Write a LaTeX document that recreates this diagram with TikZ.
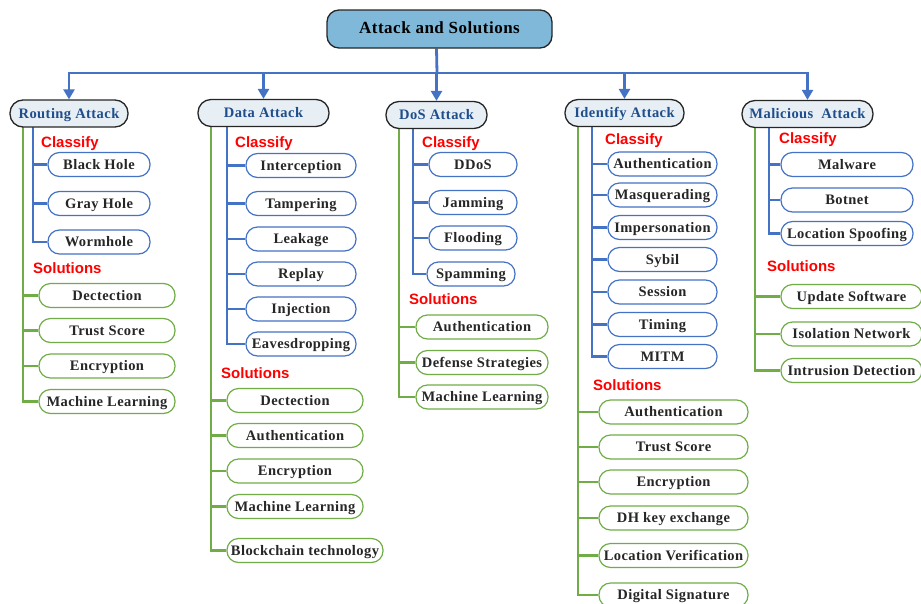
\documentclass[tikz,border=0pt]{standalone}
\usepackage{fontspec}
\setmainfont{Liberation Serif}
\newfontfamily\labfont{Liberation Sans}
\newfontfamily\boxfont{Liberation Serif}[LetterSpace=3]
\usetikzlibrary{arrows.meta,backgrounds}
\definecolor{blueC}{HTML}{4472C4}
\definecolor{greenC}{HTML}{70AD47}
\definecolor{titleC}{HTML}{7FB8D9}
\definecolor{catC}{HTML}{E8EFF4}
\definecolor{catT}{HTML}{1F4E8C}
\definecolor{redC}{HTML}{FF0000}
\begin{document}
\begin{tikzpicture}[x=1pt,y=-1pt,
  box/.style={draw, fill=white, rounded corners=11.5pt, minimum height=24pt, inner sep=0pt, line width=1.2pt, text height=12.4pt, text depth=3pt, font=\boxfont\fontsize{14.5}{16}\selectfont\bfseries, text=black!85},
  cbox/.style={box, draw=blueC},
  sbox/.style={box, draw=greenC},
  cat/.style={draw=black!85, fill=catC, rounded corners=13pt, minimum height=27pt, inner sep=0pt, line width=1.3pt, text height=12.4pt, text depth=3pt, font=\boxfont\fontsize{14.5}{16}\selectfont\bfseries, text=catT},
  lab/.style={anchor=west, inner sep=0pt, text=redC, text height=11pt, text depth=3pt, font=\labfont\fontsize{15}{17}\selectfont\bfseries},
  bl/.style={draw=blueC, line width=2.8pt},
  gl/.style={draw=greenC, line width=2.8pt},
  arr/.style={bl, -{Triangle[length=10pt,width=11pt]}}
]
\useasboundingbox (0,0) rectangle (921,603);

% title
\node[draw=black!85, fill=titleC, rounded corners=12pt, minimum width=225pt, minimum height=38pt, inner sep=0pt, line width=1.3pt, text height=13pt, text depth=3.5pt, font=\boxfont\fontsize{17}{20}\selectfont\bfseries] (title) at (439.5,29) {Attack and Solutions};

% categories
\node[cat, minimum width=118pt] (ra) at (69,113.5) {Routing Attack};
\node[cat, minimum width=131pt] (da) at (263.5,113) {Data Attack};
\node[cat, minimum width=101pt] (dos) at (436.5,115) {DoS Attack};
\node[cat, minimum width=119pt] (ia) at (624.5,113) {Identify Attack};
\node[cat, minimum width=131pt] (ma) at (807.5,114) {Malicious\ \ Attack};

% ---------- Routing ----------
\node[lab] (rcl) at (41,143) {Classify};
\node[cbox, minimum width=102pt] (rc1) at (99,164.5) {Black Hole};
\node[cbox, minimum width=102pt] (rc2) at (99,203.5) {Gray Hole};
\node[cbox, minimum width=102pt] (rc3) at (99,242) {Wormhole};
\node[lab] (rsl) at (33,269) {Solutions};
\node[sbox, minimum width=136pt] (rs1) at (107,295.5) {Dectection};
\node[sbox, minimum width=136pt] (rs2) at (107,330.5) {Trust Score};
\node[sbox, minimum width=136pt] (rs3) at (107,366) {Encryption};
\node[sbox, minimum width=136pt] (rs4) at (107,401.5) {Machine Learning};

% ---------- Data ----------
\node[lab] (dcl) at (235,143) {Classify};
\node[cbox, minimum width=110pt] (dc1) at (301,165.5) {Interception};
\node[cbox, minimum width=110pt] (dc2) at (301,203.5) {Tampering};
\node[cbox, minimum width=110pt] (dc3) at (301,239) {Leakage};
\node[cbox, minimum width=110pt] (dc4) at (301,274) {Replay};
\node[cbox, minimum width=110pt] (dc5) at (301,309) {Injection};
\node[cbox, minimum width=110pt] (dc6) at (301,344) {Eavesdropping};
\node[lab] (dsl) at (221,374) {Solutions};
\node[sbox, minimum width=136pt] (ds1) at (295,400.5) {Dectection};
\node[sbox, minimum width=136pt] (ds2) at (295,435.5) {Authentication};
\node[sbox, minimum width=136pt] (ds3) at (295,471) {Encryption};
\node[sbox, minimum width=136pt] (ds4) at (295,506.5) {Machine Learning};
\node[sbox, minimum width=156pt] (ds5) at (305,550.5) {Blockchain technology};

% ---------- DoS ----------
\node[lab] (ocl) at (422,143) {Classify};
\node[cbox, minimum width=88pt] (oc1) at (473,164.5) {DDoS};
\node[cbox, minimum width=88pt] (oc2) at (473,202.5) {Jamming};
\node[cbox, minimum width=88pt] (oc3) at (473,238) {Flooding};
\node[cbox, minimum width=88pt] (oc4) at (471,274) {Spamming};
\node[lab] (osl) at (409,300) {Solutions};
\node[sbox, minimum width=132pt] (os1) at (482,327) {Authentication};
\node[sbox, minimum width=132pt] (os2) at (482,362.5) {Defense Strategies};
\node[sbox, minimum width=132pt] (os3) at (482,397) {Machine Learning};

% ---------- Identify ----------
\node[lab] (icl) at (605,140) {Classify};
\node[cbox, minimum width=109pt] (ic1) at (662.5,164) {Authentication};
\node[cbox, minimum width=109pt] (ic2) at (662.5,195) {Masquerading};
\node[cbox, minimum width=109pt] (ic3) at (662.5,227.5) {Impersonation};
\node[cbox, minimum width=109pt] (ic4) at (662.5,259.5) {Sybil};
\node[cbox, minimum width=109pt] (ic5) at (662.5,292) {Session};
\node[cbox, minimum width=109pt] (ic6) at (662.5,324.5) {Timing};
\node[cbox, minimum width=109pt] (ic7) at (662.5,356.5) {MITM};
\node[lab] (isl) at (593,386) {Solutions};
\node[sbox, minimum width=149pt] (is1) at (673.5,412) {Authentication};
\node[sbox, minimum width=149pt] (is2) at (673.5,447) {Trust Score};
\node[sbox, minimum width=149pt] (is3) at (673.5,482) {Encryption};
\node[sbox, minimum width=149pt] (is4) at (673.5,518) {DH key exchange};
\node[sbox, minimum width=149pt] (is5) at (673.5,555.5) {Location Verification};
\node[sbox, minimum width=149pt] (is6) at (673.5,595) {Digital Signature};

% ---------- Malicious ----------
\node[lab] (mcl) at (779,139) {Classify};
\node[cbox, minimum width=132pt] (mc1) at (847,164.5) {Malware};
\node[cbox, minimum width=132pt] (mc2) at (847,200) {Botnet};
\node[cbox, minimum width=132pt] (mc3) at (847,233.5) {Location Spoofing};
\node[lab] (msl) at (767,267) {Solutions};
\node[sbox, minimum width=141pt] (ms1) at (851.5,296.5) {Update Software};
\node[sbox, minimum width=141pt] (ms2) at (851.5,334) {Isolation Network};
\node[sbox, minimum width=141pt] (ms3) at (851.5,370.5) {Intrusion Detection};

% ---------- connectors ----------
\begin{scope}[on background layer]
  \coordinate (hb) at (437,73);
  \draw[bl] (title.south -| dos.north) -- (hb);
  \draw[bl, line cap=rect] (ra.north |- hb) -- (ma.north |- hb);
  \foreach \n in {ra,da,dos,ia,ma} \draw[arr] (\n.north |- hb) -- (\n.north);

  % trunk tops
  \coordinate (rg) at (23,120);  \coordinate (rb) at (33,120);
  \coordinate (dg) at (211,120); \coordinate (db) at (227,120);
  \coordinate (og) at (399,122); \coordinate (ob) at (413,122);
  \coordinate (ig) at (578,120); \coordinate (ib) at (592,120);
  \coordinate (mg) at (755,121); \coordinate (mb) at (769,121);

  % Routing
  \draw[bl] (rb) |- (rc3.west);
  \foreach \n in {rc1,rc2} \draw[bl] (\n.west) -- (\n.west -| rb);
  \draw[gl] (rg) |- (rs4.west);
  \foreach \n in {rs1,rs2,rs3} \draw[gl] (\n.west) -- (\n.west -| rg);

  % Data
  \draw[bl] (db) |- (dc6.west);
  \foreach \n in {dc1,dc2,dc3,dc4,dc5} \draw[bl] (\n.west) -- (\n.west -| db);
  \draw[gl] (dg) |- (ds5.west);
  \foreach \n in {ds1,ds2,ds3,ds4} \draw[gl] (\n.west) -- (\n.west -| dg);

  % DoS
  \draw[bl] (ob) |- (oc4.west);
  \foreach \n in {oc1,oc2,oc3} \draw[bl] (\n.west) -- (\n.west -| ob);
  \draw[gl] (og) |- (os3.west);
  \foreach \n in {os1,os2} \draw[gl] (\n.west) -- (\n.west -| og);

  % Identify
  \draw[bl] (ib) |- (ic7.west);
  \foreach \n in {ic1,ic2,ic3,ic4,ic5,ic6} \draw[bl] (\n.west) -- (\n.west -| ib);
  \draw[gl] (ig) |- (is6.west);
  \foreach \n in {is1,is2,is3,is4,is5} \draw[gl] (\n.west) -- (\n.west -| ig);

  % Malicious
  \draw[bl] (mb) |- (mc3.west);
  \foreach \n in {mc1,mc2} \draw[bl] (\n.west) -- (\n.west -| mb);
  \draw[gl] (mg) |- (ms3.west);
  \foreach \n in {ms1,ms2} \draw[gl] (\n.west) -- (\n.west -| mg);
\end{scope}
\end{tikzpicture}
\end{document}
